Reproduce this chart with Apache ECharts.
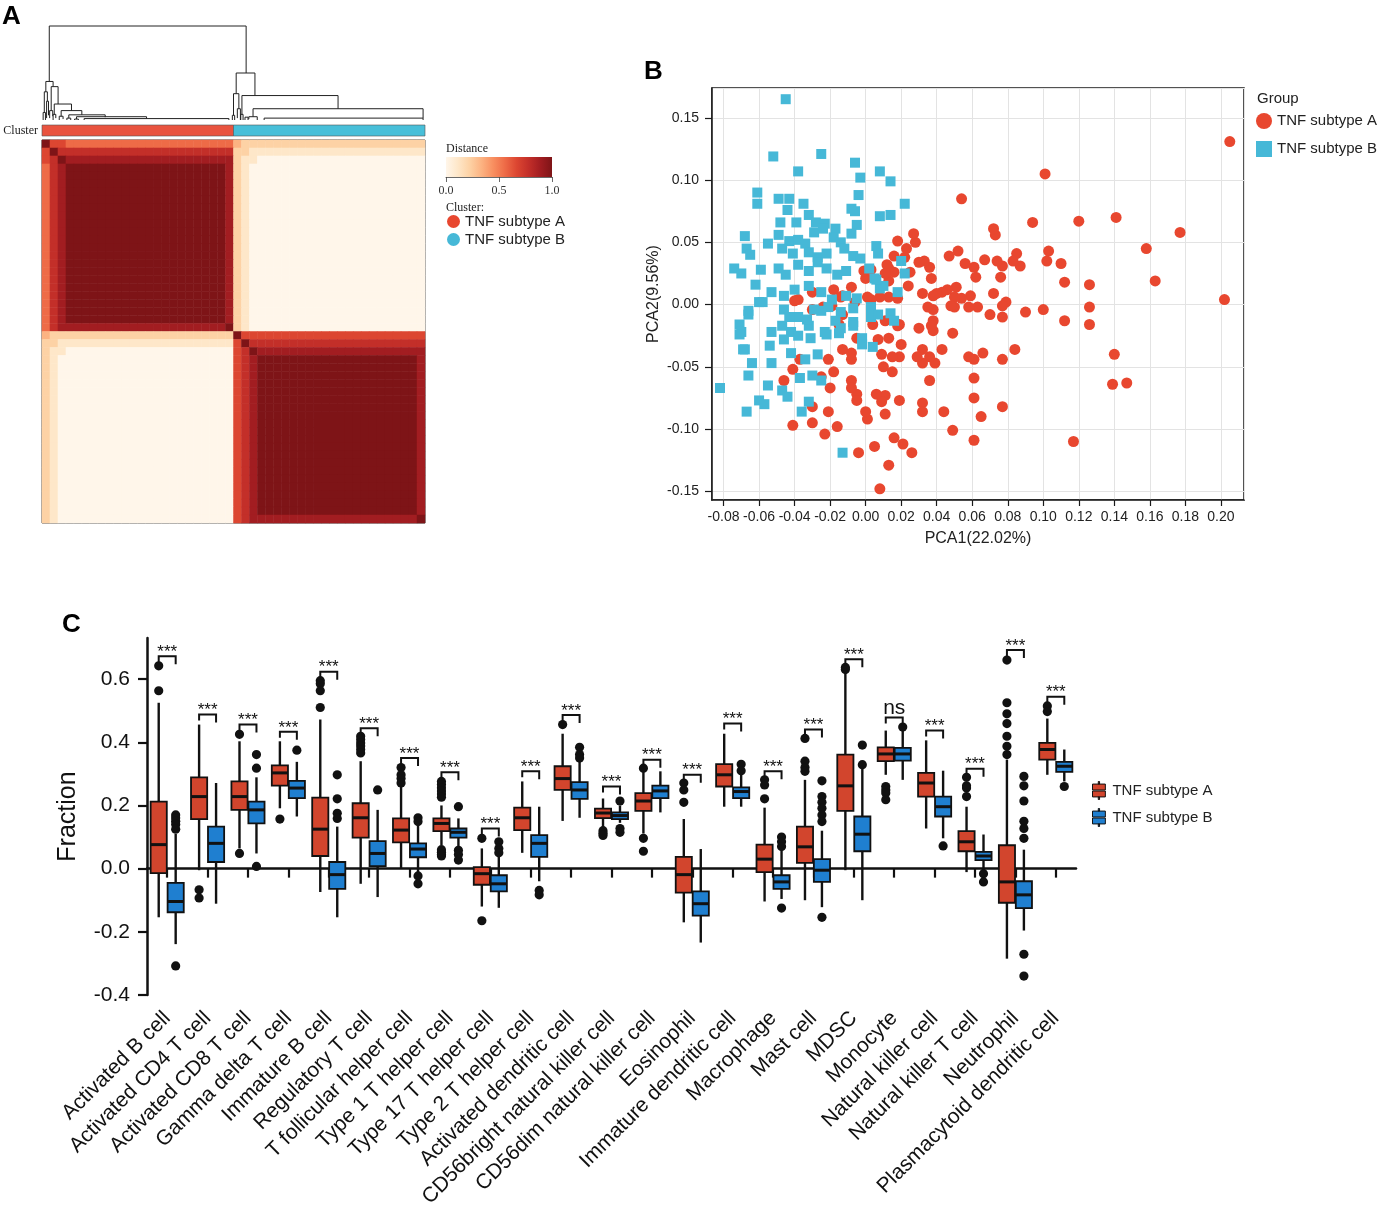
<!DOCTYPE html>
<html>
<head>
<meta charset="utf-8">
<title>TNF subtypes</title>
<script src="https://cdn.jsdelivr.net/npm/echarts@6.0.0/dist/echarts.min.js"></script>
<style>
  html, body { margin: 0; padding: 0; background: #fff; }
  #chart { width: 1378px; height: 1211px; }
</style>
</head>
<body>
<div id="chart"></div>
<script>
// ---------------- panel A : consensus matrix ----------------
// colour ramp for distance 0..9 (0 = cream, 9 = dark red)
const heatColors = ['#fff6ea', '#fee7c9', '#fdd2a5', '#fcb382', '#f88f60', '#ee6b47', '#dc4631', '#c32f29', '#a21d21', '#7e1417'];
const distanceTicks = [0, 0.5, 1];

// rows run-length encoded: [level, count]; 24 samples per cluster
const rA0  = [[9, 1], [6, 2], [5, 21], [3, 1], [2, 23]];
const rA1  = [[6, 1], [9, 1], [7, 22], [2, 2], [1, 22]];
const rA2  = [[6, 1], [7, 1], [9, 1], [8, 21], [2, 1], [1, 2], [0, 21]];
const rAc  = [[5, 1], [7, 1], [8, 1], [9, 20], [8, 1], [2, 1], [1, 1], [0, 22]];
const rA23 = [[5, 1], [7, 1], [8, 21], [9, 1], [2, 1], [1, 1], [0, 22]];
const rB0  = [[3, 1], [2, 23], [9, 1], [6, 23]];
const rB1  = [[2, 2], [1, 22], [6, 1], [9, 1], [7, 22]];
const rB2  = [[2, 1], [1, 2], [0, 21], [6, 1], [7, 1], [9, 1], [8, 21]];
const rBc  = [[2, 1], [1, 1], [0, 22], [6, 1], [7, 1], [8, 1], [9, 20], [8, 1]];
const rB47 = [[2, 1], [1, 1], [0, 22], [6, 1], [7, 1], [8, 21], [9, 1]];
const heatRows = [
  rA0, rA1, rA2,
  rAc, rAc, rAc, rAc, rAc, rAc, rAc, rAc, rAc, rAc,
  rAc, rAc, rAc, rAc, rAc, rAc, rAc, rAc, rAc, rAc,
  rA23,
  rB0, rB1, rB2,
  rBc, rBc, rBc, rBc, rBc, rBc, rBc, rBc, rBc, rBc,
  rBc, rBc, rBc, rBc, rBc, rBc, rBc, rBc, rBc, rBc,
  rB47
];
const clusterSpans = [[0, 24], [24, 48]];
const clusterColors = ['#e9533f', '#48bfd9'];

// dendrogram links: [x left child, x right child, h left, h right, h merge] (x in % of width)
const dendroLinks = [
  [1.9, 53.3, 0.41, 0.50, 1.00],
  [1.0, 2.9, 0.30, 0.355, 0.41],
  [0.6, 1.4, 0.08, 0.20, 0.30],
  [0.3, 0.9, 0.0, 0.0, 0.08],
  [1.2, 1.7, 0.02, 0.05, 0.20],
  [2.4, 4.2, 0.10, 0.17, 0.355],
  [2.0, 2.8, 0.02, 0.04, 0.10],
  [3.2, 7.7, 0.06, 0.10, 0.17],
  [2.9, 3.6, 0.0, 0.02, 0.06],
  [5.0, 10.4, 0.04, 0.055, 0.10],
  [4.5, 5.5, 0.0, 0.01, 0.04],
  [7.0, 16.5, 0.02, 0.03, 0.055],
  [6.5, 7.5, 0.0, 0.0, 0.02],
  [9.0, 27.3, 0.01, 0.015, 0.035],
  [8.5, 9.5, 0.0, 0.0, 0.01],
  [11.0, 48.8, 0.0, 0.0, 0.015],
  [50.7, 55.6, 0.28, 0.26, 0.50],
  [50.0, 51.4, 0.05, 0.12, 0.28],
  [49.7, 50.3, 0.0, 0.0, 0.05],
  [51.0, 51.8, 0.02, 0.0, 0.12],
  [52.2, 77.3, 0.06, 0.12, 0.26],
  [51.9, 52.5, 0.0, 0.0, 0.06],
  [55.1, 99.5, 0.035, 0.02, 0.12],
  [54.0, 56.2, 0.01, 0.0, 0.035],
  [53.0, 53.8, 0.0, 0.0, 0.03],
  [58.0, 99.5, 0.0, 0.0, 0.02]
];

// ---------------- panel B : PCA ----------------
const pcaA = [
  [0.205,0.131],[0.202,0.004],[0.177,0.058],[0.163,0.019],[0.158,0.045],[0.141,0.070],[0.147,-0.063],[0.139,-0.064],
  [0.140,-0.040],[0.120,0.067],[0.126,0.016],[0.126,-0.002],[0.126,-0.016],[0.117,-0.110],[0.112,0.018],[0.112,-0.013],
  [0.110,0.033],[0.103,0.043],[0.102,0.035],[0.101,0.105],[0.100,-0.004],[0.094,0.066],[0.090,-0.006],[0.087,0.031],
  [0.085,0.041],[0.083,0.035],[0.084,-0.036],[0.079,0.002],[0.077,-0.001],[0.077,-0.010],[0.077,-0.044],[0.077,-0.082],
  [0.077,0.031],[0.076,0.022],[0.074,0.035],[0.073,0.056],[0.072,0.061],[0.072,0.009],[0.070,-0.008],[0.067,0.036],
  [0.066,-0.039],[0.065,-0.090],[0.063,-0.002],[0.062,0.022],[0.061,0.030],[0.061,-0.044],[0.061,-0.059],[0.061,-0.075],
  [0.061,-0.109],[0.059,0.007],[0.058,-0.002],[0.058,-0.042],[0.056,0.033],[0.054,0.085],[0.054,0.005],[0.052,0.043],
  [0.051,0.014],[0.050,0.006],[0.050,-0.002],[0.049,-0.023],[0.049,-0.101],[0.048,-0.001],[0.047,0.039],[0.046,0.012],
  [0.044,-0.086],[0.043,0.010],[0.043,-0.036],[0.040,0.009],[0.039,-0.047],[0.038,0.007],[0.038,-0.004],[0.038,-0.013],
  [0.038,-0.021],[0.037,0.021],[0.037,-0.017],[0.036,0.030],[0.036,-0.042],[0.036,-0.061],[0.035,-0.002],[0.033,0.035],
  [0.032,0.009],[0.032,-0.036],[0.032,-0.047],[0.032,-0.079],[0.032,-0.086],[0.030,0.034],[0.030,-0.019],[0.029,-0.042],
  [0.028,0.050],[0.027,0.057],[0.025,0.026],[0.024,0.015],[0.023,0.045],[0.022,0.038],[0.020,-0.032],[0.019,-0.016],
  [0.019,-0.042],[0.019,-0.077],[0.018,0.051],[0.018,0.005],[0.018,-0.017],[0.016,0.039],[0.016,0.026],[0.016,-0.107],
  [0.015,-0.042],[0.015,-0.054],[0.013,0.029],[0.013,0.019],[0.013,0.006],[0.013,-0.027],[0.013,-0.129],[0.012,0.032],
  [0.011,0.025],[0.011,-0.013],[0.011,-0.073],[0.011,-0.088],[0.010,-0.050],[0.009,-0.040],[0.009,-0.078],[0.008,0.006],
  [0.008,-0.148],[0.007,-0.028],[0.006,-0.072],[0.005,-0.114],[0.004,-0.016],[0.003,0.028],[0.003,0.004],[0.001,0.006],
  [0.001,-0.092],[0.000,0.021],[0.000,-0.086],[-0.001,0.027],[-0.004,-0.119],[-0.005,-0.027],[-0.005,-0.072],[-0.005,-0.077],
  [-0.006,0.002],[-0.008,0.014],[-0.008,-0.039],[-0.008,-0.044],[-0.008,-0.061],[-0.008,-0.067],[-0.013,0.007],[-0.013,-0.008],
  [-0.013,-0.036],[-0.014,0.006],[-0.015,-0.016],[-0.016,-0.098],[-0.018,0.012],[-0.018,-0.054],[-0.019,-0.001],[-0.020,-0.067],
  [-0.021,-0.044],[-0.021,-0.086],[-0.023,-0.104],[-0.024,-0.002],[-0.025,-0.058],[-0.030,0.010],[-0.030,-0.004],[-0.030,-0.082],
  [-0.030,-0.095],[-0.037,-0.044],[-0.038,0.004],[-0.040,0.003],[-0.041,-0.052],[-0.041,-0.097],[-0.046,-0.061],[0.021,-0.112],
  [0.026,-0.119]
];
const pcaB = [
  [-0.045,0.165],[-0.052,0.119],[-0.025,0.121],[-0.038,0.107],[-0.006,0.114],[-0.003,0.102],[0.008,0.107],[0.014,0.099],
  [-0.061,0.090],[-0.061,0.081],[-0.004,0.088],[0.022,0.081],[-0.035,0.081],[-0.049,0.085],[-0.043,0.085],[-0.008,0.077],
  [-0.006,0.075],[0.008,0.071],[0.014,0.072],[-0.044,0.076],[-0.039,0.066],[-0.048,0.066],[-0.032,0.072],[-0.028,0.066],
  [-0.023,0.065],[-0.017,0.061],[-0.005,0.064],[-0.068,0.055],[-0.067,0.045],[-0.065,0.040],[-0.055,0.049],[-0.049,0.056],
  [-0.043,0.051],[-0.038,0.052],[-0.034,0.049],[-0.029,0.058],[-0.024,0.061],[-0.018,0.054],[-0.014,0.050],[-0.008,0.057],
  [0.006,0.047],[0.007,0.041],[-0.047,0.045],[-0.041,0.041],[-0.032,0.042],[-0.027,0.038],[-0.022,0.041],[-0.012,0.045],
  [-0.007,0.039],[-0.003,0.037],[-0.074,0.029],[-0.070,0.025],[-0.062,0.016],[-0.059,0.028],[-0.049,0.029],[-0.045,0.024],
  [-0.038,0.032],[-0.032,0.027],[-0.027,0.034],[-0.022,0.029],[-0.016,0.024],[-0.011,0.027],[0.002,0.029],[0.005,0.021],
  [0.008,0.013],[0.020,0.035],[0.010,0.015],[0.018,0.010],[0.006,0.020],[0.022,0.025],[-0.058,0.002],[-0.053,0.010],
  [-0.046,0.007],[-0.040,0.012],[-0.032,0.015],[-0.025,0.010],[-0.019,0.004],[-0.011,0.007],[-0.005,0.005],[-0.066,-0.005],
  [-0.071,-0.016],[-0.070,-0.022],[-0.046,-0.004],[-0.038,-0.010],[-0.029,-0.004],[-0.021,-0.002],[-0.014,-0.006],[-0.007,-0.003],
  [0.003,-0.002],[0.014,-0.007],[-0.007,-0.014],[-0.047,-0.017],[-0.053,-0.022],[-0.042,-0.022],[-0.032,-0.017],[-0.023,-0.022],
  [-0.014,-0.019],[-0.002,-0.027],[-0.068,-0.036],[-0.082,-0.067],[-0.067,-0.086],[-0.060,-0.077],[-0.057,-0.080],[-0.066,-0.057],
  [-0.055,-0.065],[-0.071,-0.024],[-0.069,-0.036],[-0.064,-0.047],[-0.066,-0.008],[-0.060,0.002],[-0.054,-0.033],[-0.053,-0.047],
  [-0.047,-0.069],[-0.044,-0.074],[-0.037,-0.059],[-0.036,-0.086],[-0.032,-0.078],[-0.030,-0.057],[-0.025,-0.061],[-0.034,-0.044],
  [-0.027,-0.040],[-0.042,-0.039],[-0.046,-0.028],[-0.038,-0.025],[-0.031,-0.027],[-0.022,-0.024],[-0.015,-0.023],[-0.007,-0.017],
  [-0.002,-0.032],[0.004,-0.034],[-0.013,-0.119],[0.003,-0.010],[0.007,-0.008],[0.016,-0.013],[-0.017,-0.013],[-0.025,-0.005],
  [-0.033,-0.012],[-0.043,-0.010]
];

// ---------------- panel C : immune cell fractions ----------------
const cellTypes = ['Activated B cell', 'Activated CD4 T cell', 'Activated CD8 T cell', 'Gamma delta T cell',
  'Immature B cell', 'Regulatory T cell', 'T follicular helper cell', 'Type 1 T helper cell', 'Type 17 T helper cell',
  'Type 2 T helper cell', 'Activated dendritic cell', 'CD56bright natural killer cell', 'CD56dim natural killer cell',
  'Eosinophil', 'Immature dendritic cell', 'Macrophage', 'Mast cell', 'MDSC', 'Monocyte', 'Natural killer cell',
  'Natural killer T cell', 'Neutrophil', 'Plasmacytoid dendritic cell'];
const fractionTicks = [-0.4, -0.2, 0, 0.2, 0.4, 0.6];
// [lower whisker, Q1, median, Q3, upper whisker]
const boxA = [
  [-0.154, -0.014, 0.076, 0.212, 0.525], [-0.005, 0.157, 0.228, 0.289, 0.456], [0.064, 0.186, 0.228, 0.276, 0.403],
  [0.191, 0.263, 0.303, 0.327, 0.403], [-0.074, 0.040, 0.125, 0.225, 0.472], [-0.048, 0.098, 0.161, 0.207, 0.340],
  [0.000, 0.083, 0.122, 0.159, 0.262], [0.074, 0.119, 0.143, 0.159, 0.200], [-0.120, -0.051, -0.016, 0.005, 0.064],
  [0.050, 0.122, 0.161, 0.193, 0.276], [0.151, 0.249, 0.285, 0.324, 0.427], [0.130, 0.160, 0.176, 0.190, 0.222],
  [0.111, 0.183, 0.214, 0.239, 0.308], [-0.170, -0.076, -0.019, 0.037, 0.157], [0.196, 0.260, 0.297, 0.331, 0.427],
  [-0.104, -0.011, 0.030, 0.076, 0.193], [-0.100, 0.018, 0.069, 0.133, 0.281], [-0.005, 0.183, 0.262, 0.361, 0.620],
  [0.297, 0.340, 0.363, 0.384, 0.437], [0.127, 0.228, 0.271, 0.303, 0.406], [-0.011, 0.055, 0.085, 0.119, 0.196],
  [-0.285, -0.108, -0.042, 0.074, 0.345], [0.297, 0.345, 0.377, 0.398, 0.475]
];
const boxB = [
  [-0.239, -0.138, -0.104, -0.045, 0.110], [-0.111, 0.021, 0.080, 0.133, 0.271], [0.048, 0.143, 0.186, 0.212, 0.289],
  [0.165, 0.223, 0.255, 0.278, 0.338], [-0.154, -0.064, -0.019, 0.021, 0.133], [-0.090, 0.008, 0.048, 0.087, 0.186],
  [-0.015, 0.036, 0.062, 0.080, 0.140], [0.064, 0.098, 0.115, 0.127, 0.159], [-0.124, -0.072, -0.048, -0.021, 0.037],
  [-0.040, 0.037, 0.080, 0.106, 0.196], [0.161, 0.221, 0.249, 0.274, 0.340], [0.145, 0.157, 0.168, 0.178, 0.200],
  [0.178, 0.223, 0.246, 0.263, 0.308], [-0.234, -0.149, -0.111, -0.072, 0.062], [0.196, 0.223, 0.244, 0.257, 0.300],
  [-0.096, -0.064, -0.042, -0.021, 0.060], [-0.122, -0.042, -0.005, 0.030, 0.120], [-0.100, 0.055, 0.109, 0.165, 0.320],
  [0.281, 0.342, 0.363, 0.382, 0.440], [0.096, 0.165, 0.196, 0.228, 0.310], [-0.011, 0.027, 0.040, 0.053, 0.108],
  [-0.196, -0.125, -0.083, -0.040, 0.060], [0.276, 0.306, 0.324, 0.338, 0.377]
];
// outliers: [cell type index, value]
const outA = [
  [0, 0.642], [0, 0.563], [1, -0.067], [1, -0.093], [2, 0.425], [2, 0.048], [3, 0.157],
  [4, 0.595], [4, 0.585], [4, 0.563], [4, 0.510],
  [5, 0.419], [5, 0.409], [5, 0.398], [5, 0.388], [5, 0.377], [5, 0.366],
  [6, 0.320], [6, 0.297], [6, 0.285], [6, 0.271],
  [7, 0.276], [7, 0.266], [7, 0.256], [7, 0.246], [7, 0.236], [7, 0.226], [7, 0.060], [7, 0.052], [7, 0.045], [7, 0.040],
  [8, 0.096], [8, -0.165], [10, 0.456], [11, 0.120], [11, 0.112], [11, 0.105],
  [12, 0.318], [12, 0.096], [12, 0.055], [13, 0.271], [13, 0.249], [13, 0.210],
  [15, 0.281], [15, 0.265], [15, 0.221], [16, 0.412], [16, 0.340], [16, 0.320], [16, 0.308],
  [17, 0.637], [17, 0.630], [18, 0.260], [18, 0.249], [18, 0.239], [18, 0.218],
  [20, 0.289], [20, 0.262], [20, 0.255], [20, 0.228],
  [21, 0.660], [21, 0.525], [21, 0.490], [21, 0.459], [21, 0.419], [21, 0.387], [21, 0.361],
  [22, 0.515], [22, 0.497]
];
const outB = [
  [0, 0.170], [0, 0.160], [0, 0.150], [0, 0.140], [0, 0.125], [0, -0.308],
  [2, 0.361], [2, 0.318], [2, 0.007], [3, 0.375], [4, 0.297], [4, 0.221], [4, 0.175], [4, 0.159], [5, 0.249],
  [6, 0.161], [6, 0.149], [6, -0.023], [6, -0.048], [7, 0.196], [7, 0.058], [7, 0.045], [7, 0.027],
  [8, 0.085], [8, 0.064], [8, 0.050], [9, -0.069], [9, -0.083], [10, 0.384], [10, 0.361], [10, 0.350],
  [11, 0.214], [11, 0.127], [11, 0.115], [14, 0.330], [14, 0.310],
  [15, 0.100], [15, 0.085], [15, 0.070], [15, -0.125],
  [16, 0.278], [16, 0.228], [16, 0.210], [16, 0.191], [16, 0.170], [16, 0.149], [16, -0.154],
  [17, 0.391], [17, 0.329], [18, 0.448], [19, 0.072], [20, -0.016], [20, -0.042],
  [21, 0.292], [21, 0.262], [21, 0.214], [21, 0.150], [21, 0.127], [21, 0.096], [21, -0.271], [21, -0.340],
  [22, 0.260]
];
const sigY = [0.672, 0.488, 0.456, 0.433, 0.623, 0.444, 0.350, 0.305, 0.127, 0.308, 0.486, 0.260,
  0.345, 0.297, 0.459, 0.308, 0.440, 0.663, 0.478, 0.437, 0.316, 0.692, 0.544];
const sigText = ['***', '***', '***', '***', '***', '***', '***', '***', '***', '***', '***', '***',
  '***', '***', '***', '***', '***', '***', 'ns', '***', '***', '***', '***'];

const redA = '#e8472f', cyanB = '#46b8d7';
const boxRed = '#d2452d', boxBlue = '#1f7fd0';
const ink = '#111';

// ---------------- build ----------------
const heatData = [];
heatRows.forEach(function (runs, i) {
  let j = 0;
  runs.forEach(function (r) {
    for (let k = 0; k < r[1]; k++) { heatData.push([j, i, r[0]]); j++; }
  });
});
const cells = heatRows.map(function (r, i) { return i; });

const fmt2 = function (v) { return Math.abs(v) < 1e-9 ? '0.00' : v.toFixed(2); };

function boxItem(color, side) {
  return function (params, api) {
    const cat = api.value(0);
    const band = api.size([1, 0])[0];
    const cx = api.coord([cat, 0])[0] + side * band * 0.21;
    const hw = band * 0.2;
    const yLo = api.coord([cat, api.value(1)])[1];
    const yQ1 = api.coord([cat, api.value(2)])[1];
    const yMed = api.coord([cat, api.value(3)])[1];
    const yQ3 = api.coord([cat, api.value(4)])[1];
    const yHi = api.coord([cat, api.value(5)])[1];
    return {
      type: 'group',
      children: [
        { type: 'line', shape: { x1: cx, y1: yQ1, x2: cx, y2: yLo }, style: { stroke: ink, lineWidth: 2.4 } },
        { type: 'line', shape: { x1: cx, y1: yQ3, x2: cx, y2: yHi }, style: { stroke: ink, lineWidth: 2.4 } },
        { type: 'rect', shape: { x: cx - hw, y: yQ3, width: hw * 2, height: yQ1 - yQ3 }, style: { fill: color, stroke: ink, lineWidth: 1.8 } },
        { type: 'line', shape: { x1: cx - hw, y1: yMed, x2: cx + hw, y2: yMed }, style: { stroke: ink, lineWidth: 3 } }
      ]
    };
  };
}

const outData = outA.map(function (d) { return [d[0], d[1], -1]; })
  .concat(outB.map(function (d) { return [d[0], d[1], 1]; }));

const boxIcon = 'path://M4.5,0h1v2h-1z M0,2h10v4.6h-10z M0,7.4h10v4.6h-10z M4.5,12h1v2h-1z';

const chart = echarts.init(document.getElementById('chart'), null, { renderer: 'canvas' });

const option = {
  animation: false,
  backgroundColor: '#fff',
  textStyle: { fontFamily: 'Liberation Sans' },
  grid: [
    { left: 42, top: 26, width: 383, height: 94, outerBoundsMode: 'none' },
    { left: 42, top: 125, width: 383, height: 11, outerBoundsMode: 'none' },
    { left: 42, top: 140, width: 383, height: 383, show: true, borderColor: '#3a3a3a', borderWidth: 1, backgroundColor: 'transparent', outerBoundsMode: 'none' },
    { left: 446, top: 157, width: 106, height: 20, outerBoundsMode: 'none' },
    { left: 712, top: 88, width: 532, height: 412, show: true, borderColor: '#1a1a1a', borderWidth: 1.5, backgroundColor: '#fff', outerBoundsMode: 'none' },
    { left: 147, top: 638, width: 929, height: 357, outerBoundsMode: 'none' }
  ],
  xAxis: [
    { gridIndex: 0, type: 'value', min: 0, max: 100, show: false },
    { gridIndex: 1, type: 'value', min: 0, max: 48, show: false },
    { gridIndex: 2, type: 'category', data: cells, show: false },
    {
      gridIndex: 3, type: 'value', min: 0, max: 1, interval: 0.5, offset: 3,
      axisLine: { show: true, lineStyle: { color: '#444', width: 0.8 } },
      axisTick: { show: true, length: 5, lineStyle: { color: '#444', width: 0.8 } },
      axisLabel: { fontFamily: 'Liberation Serif', fontSize: 12, color: '#333', margin: 5,
        formatter: function (v) { return distanceTicks.indexOf(v) >= 0 ? v.toFixed(1) : ''; } },
      splitLine: { show: false }
    },
    {
      gridIndex: 4, type: 'value', min: -0.0865, max: 0.213, splitNumber: 15, minInterval: 0.02, maxInterval: 0.02,
      axisLine: { show: true, onZero: false, lineStyle: { color: '#1a1a1a', width: 1.5 } },
      axisTick: { show: true, length: 6, lineStyle: { color: '#1a1a1a', width: 1.2 } },
      axisLabel: { fontSize: 14, color: '#222', margin: 10, showMinLabel: false, showMaxLabel: false, formatter: fmt2 },
      splitLine: { show: true, lineStyle: { color: '#e3e3e3', width: 1 } },
      name: 'PCA1(22.02%)', nameLocation: 'middle', nameGap: 31,
      nameTextStyle: { fontSize: 16, color: '#222' }
    },
    {
      gridIndex: 5, type: 'category', data: cellTypes, boundaryGap: true,
      axisLine: { show: true, lineStyle: { color: ink, width: 2.5 } },
      axisTick: { show: true, alignWithLabel: true, length: 9, lineStyle: { color: ink, width: 2.2 } },
      axisLabel: { interval: 0, rotate: 45, fontSize: 21, color: ink, margin: 20 },
      splitLine: { show: false }
    }
  ],
  yAxis: [
    { gridIndex: 0, type: 'value', min: 0, max: 1, show: false },
    { gridIndex: 1, type: 'value', min: 0, max: 1, show: false },
    { gridIndex: 2, type: 'category', data: cells, inverse: true, show: false },
    { gridIndex: 3, type: 'value', min: 0, max: 1, show: false },
    {
      gridIndex: 4, type: 'value', min: -0.157, max: 0.174, splitNumber: 7, minInterval: 0.05, maxInterval: 0.05,
      axisLine: { show: true, onZero: false, lineStyle: { color: '#1a1a1a', width: 1.5 } },
      axisTick: { show: true, length: 7, lineStyle: { color: '#1a1a1a', width: 1.2 } },
      axisLabel: { fontSize: 14, color: '#222', margin: 13, showMinLabel: false, showMaxLabel: false, formatter: fmt2 },
      splitLine: { show: true, lineStyle: { color: '#e3e3e3', width: 1 } },
      name: 'PCA2(9.56%)', nameLocation: 'middle', nameGap: 50,
      nameTextStyle: { fontSize: 16, color: '#222' }
    },
    {
      gridIndex: 5, type: 'value', min: -0.4, max: 0.73,
      axisLine: { show: true, onZero: false, lineStyle: { color: ink, width: 2.5 } },
      axisTick: { show: true, length: 9, customValues: fractionTicks, lineStyle: { color: ink, width: 2.2 } },
      axisLabel: { customValues: fractionTicks, fontSize: 21, color: ink, margin: 17,
        formatter: function (v) { return v.toFixed(1); } },
      splitLine: { show: false },
      name: 'Fraction', nameLocation: 'middle', nameGap: 66,
      nameTextStyle: { fontSize: 25, color: ink }
    }
  ],
  visualMap: [{
    type: 'continuous', show: false, seriesIndex: 0, min: 0, max: 9,
    inRange: { color: heatColors }
  }],
  legend: [
    {
      left: 447, top: 214, orient: 'vertical', padding: 0, itemWidth: 13, itemHeight: 13, itemGap: 3,
      selectedMode: false, textStyle: { fontSize: 15, color: '#222', lineHeight: 15 },
      data: [{ name: 'TNF subtype A', icon: 'circle' }, { name: 'TNF subtype B', icon: 'circle' }]
    },
    {
      left: 1256, top: 113, orient: 'vertical', padding: 0, itemWidth: 16, itemHeight: 16, itemGap: 12,
      selectedMode: false, textStyle: { fontSize: 15, color: '#222' },
      data: [{ name: 'TNF subtype A', icon: 'circle' }, { name: 'TNF subtype B', icon: 'rect' }]
    },
    {
      left: 1092, top: 781, orient: 'vertical', padding: 0, itemWidth: 17, itemHeight: 18, itemGap: 8,
      selectedMode: false, textStyle: { fontSize: 15, color: '#222' },
      data: [
        { name: 'TNF subtype A', icon: boxIcon, itemStyle: { color: boxRed, borderColor: ink, borderWidth: 1 } },
        { name: 'TNF subtype B', icon: boxIcon, itemStyle: { color: boxBlue, borderColor: ink, borderWidth: 1 } }
      ]
    }
  ],
  graphic: [
    { type: 'text', x: 2, y: 17, style: { text: 'A', font: 'bold 26px "Liberation Sans"', fill: '#000', verticalAlign: 'middle' } },
    { type: 'text', x: 38, y: 131, style: { text: 'Cluster', font: '12px "Liberation Serif"', fill: '#222', align: 'right', verticalAlign: 'middle' } },
    { type: 'text', x: 446, y: 149, style: { text: 'Distance', font: '12px "Liberation Serif"', fill: '#222', verticalAlign: 'middle' } },
    { type: 'text', x: 446, y: 208, style: { text: 'Cluster:', font: '12px "Liberation Serif"', fill: '#222', verticalAlign: 'middle' } },
    { type: 'text', x: 644, y: 72, style: { text: 'B', font: 'bold 26px "Liberation Sans"', fill: '#000', verticalAlign: 'middle' } },
    { type: 'text', x: 1257, y: 99, style: { text: 'Group', font: '15px "Liberation Sans"', fill: '#222', verticalAlign: 'middle' } },
    { type: 'text', x: 62, y: 625, style: { text: 'C', font: 'bold 26px "Liberation Sans"', fill: '#000', verticalAlign: 'middle' } }
  ],
  series: [
    {
      type: 'heatmap', xAxisIndex: 2, yAxisIndex: 2, data: heatData, progressive: 0, silent: true,
      itemStyle: { borderWidth: 0 }
    },
    {
      type: 'custom', name: 'dendrogram', xAxisIndex: 0, yAxisIndex: 0, silent: true, data: dendroLinks,
      renderItem: function (params, api) {
        const xa = api.value(0), xb = api.value(1);
        return {
          type: 'polyline',
          shape: { points: [api.coord([xa, api.value(2)]), api.coord([xa, api.value(4)]),
            api.coord([xb, api.value(4)]), api.coord([xb, api.value(3)])] },
          style: { stroke: '#222', lineWidth: 1, fill: null }
        };
      }
    },
    {
      type: 'custom', name: 'Cluster', xAxisIndex: 1, yAxisIndex: 1, silent: true, data: clusterSpans,
      renderItem: function (params, api) {
        const a = api.coord([api.value(0), 0]), b = api.coord([api.value(1), 1]);
        return {
          type: 'rect', shape: { x: a[0], y: b[1], width: b[0] - a[0], height: a[1] - b[1] },
          style: { fill: clusterColors[params.dataIndex], stroke: '#555', lineWidth: 0.6 }
        };
      }
    },
    {
      type: 'custom', name: 'Distance', xAxisIndex: 3, yAxisIndex: 3, silent: true, data: [[0, 1]],
      renderItem: function (params, api) {
        const a = api.coord([0, 0]), b = api.coord([1, 1]);
        return {
          type: 'rect', shape: { x: a[0], y: b[1], width: b[0] - a[0], height: a[1] - b[1] },
          style: {
            fill: new echarts.graphic.LinearGradient(0, 0, 1, 0, heatColors.map(function (c, i) {
              return { offset: i / (heatColors.length - 1), color: c };
            }))
          }
        };
      }
    },
    {
      type: 'scatter', name: 'TNF subtype A', xAxisIndex: 4, yAxisIndex: 4, data: pcaA,
      symbol: 'circle', symbolSize: 11, itemStyle: { color: redA, opacity: 1 }
    },
    {
      type: 'scatter', name: 'TNF subtype B', xAxisIndex: 4, yAxisIndex: 4, data: pcaB,
      symbol: 'rect', symbolSize: 10, itemStyle: { color: cyanB, opacity: 1 }
    },
    {
      type: 'custom', name: 'TNF subtype A', xAxisIndex: 5, yAxisIndex: 5,
      itemStyle: { color: boxRed },
      data: boxA.map(function (b, i) { return [i].concat(b); }),
      renderItem: boxItem(boxRed, -1)
    },
    {
      type: 'custom', name: 'TNF subtype B', xAxisIndex: 5, yAxisIndex: 5,
      itemStyle: { color: boxBlue },
      data: boxB.map(function (b, i) { return [i].concat(b); }),
      renderItem: boxItem(boxBlue, 1)
    },
    {
      type: 'custom', name: 'outliers', xAxisIndex: 5, yAxisIndex: 5, data: outData, silent: true,
      renderItem: function (params, api) {
        const band = api.size([1, 0])[0];
        const p = api.coord([api.value(0), api.value(1)]);
        return { type: 'circle', shape: { cx: p[0] + api.value(2) * band * 0.21, cy: p[1], r: 4.6 }, style: { fill: ink } };
      }
    },
    {
      type: 'custom', name: 'significance', xAxisIndex: 5, yAxisIndex: 5, silent: true,
      data: sigY.map(function (y, i) { return [i, y]; }),
      renderItem: function (params, api) {
        const band = api.size([1, 0])[0];
        const p = api.coord([api.value(0), api.value(1)]);
        const x1 = p[0] - band * 0.21, x2 = p[0] + band * 0.21;
        const label = sigText[params.dataIndex];
        const ns = label === 'ns';
        return {
          type: 'group',
          children: [
            { type: 'polyline', shape: { points: [[x1, p[1] + 6], [x1, p[1]], [x2, p[1]], [x2, p[1] + 8]] },
              style: { stroke: ink, lineWidth: 2, fill: null } },
            { type: 'text', x: p[0], y: ns ? p[1] + 1 : p[1] - 4,
              style: { text: label, align: 'center', verticalAlign: ns ? 'bottom' : 'middle',
                font: ns ? '21px "Liberation Sans"' : '17px "Liberation Sans"', fill: ink } }
          ]
        };
      }
    }
  ]
};

chart.setOption(option);
</script>
</body>
</html>
